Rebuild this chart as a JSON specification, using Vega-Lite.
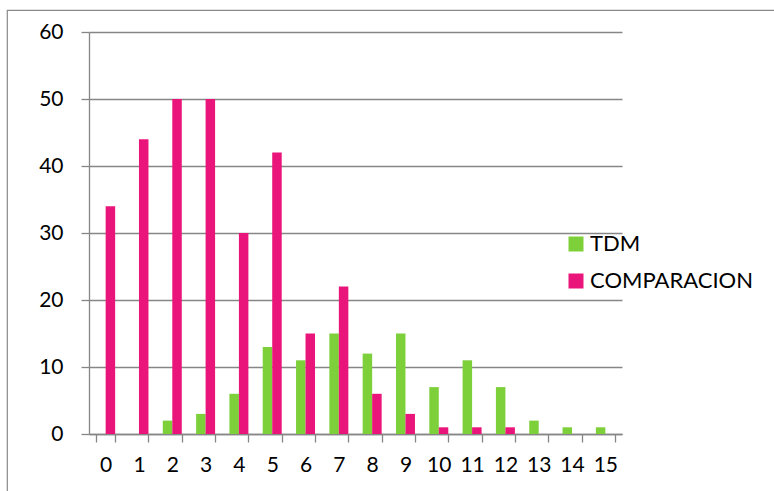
{
  "$schema": "https://vega.github.io/schema/vega-lite/v6.json",
  "autosize": {"type": "none"},
  "padding": {"left": 7, "top": 10, "right": -4, "bottom": -4},
  "width": 771,
  "height": 485,
  "config": {
    "font": "Lato",
    "view": {"stroke": "#8a8a8a", "strokeWidth": 1.2},
    "axis": {
      "labelFont": "Lato",
      "labelFontSize": 21,
      "labelColor": "#000000",
      "domainColor": "#868686",
      "domainWidth": 1.3,
      "tickColor": "#868686",
      "tickWidth": 1.3,
      "tickSize": 8,
      "gridColor": "#868686",
      "gridWidth": 1.3,
      "title": null
    }
  },
  "data": {
    "values": [
      {"n": 0, "serie": "TDM", "valor": 0},
      {"n": 1, "serie": "TDM", "valor": 0},
      {"n": 2, "serie": "TDM", "valor": 2},
      {"n": 3, "serie": "TDM", "valor": 3},
      {"n": 4, "serie": "TDM", "valor": 6},
      {"n": 5, "serie": "TDM", "valor": 13},
      {"n": 6, "serie": "TDM", "valor": 11},
      {"n": 7, "serie": "TDM", "valor": 15},
      {"n": 8, "serie": "TDM", "valor": 12},
      {"n": 9, "serie": "TDM", "valor": 15},
      {"n": 10, "serie": "TDM", "valor": 7},
      {"n": 11, "serie": "TDM", "valor": 11},
      {"n": 12, "serie": "TDM", "valor": 7},
      {"n": 13, "serie": "TDM", "valor": 2},
      {"n": 14, "serie": "TDM", "valor": 1},
      {"n": 15, "serie": "TDM", "valor": 1},
      {"n": 0, "serie": "COMPARACION", "valor": 34},
      {"n": 1, "serie": "COMPARACION", "valor": 44},
      {"n": 2, "serie": "COMPARACION", "valor": 50},
      {"n": 3, "serie": "COMPARACION", "valor": 50},
      {"n": 4, "serie": "COMPARACION", "valor": 30},
      {"n": 5, "serie": "COMPARACION", "valor": 42},
      {"n": 6, "serie": "COMPARACION", "valor": 15},
      {"n": 7, "serie": "COMPARACION", "valor": 22},
      {"n": 8, "serie": "COMPARACION", "valor": 6},
      {"n": 9, "serie": "COMPARACION", "valor": 3},
      {"n": 10, "serie": "COMPARACION", "valor": 1},
      {"n": 11, "serie": "COMPARACION", "valor": 1},
      {"n": 12, "serie": "COMPARACION", "valor": 1},
      {"n": 13, "serie": "COMPARACION", "valor": 0},
      {"n": 14, "serie": "COMPARACION", "valor": 0},
      {"n": 15, "serie": "COMPARACION", "valor": 0}
    ]
  },
  "mark": {"type": "bar"},
  "encoding": {
    "x": {
      "field": "n",
      "type": "ordinal",
      "scale": {"range": [82, 615], "paddingInner": 0.43, "paddingOuter": 0.215},
      "axis": {
        "orient": "bottom",
        "offset": -61,
        "labelAngle": 0,
        "tickBand": "extent",
        "grid": false,
        "labelPadding": 12
      }
    },
    "xOffset": {
      "field": "serie",
      "type": "nominal",
      "sort": ["TDM", "COMPARACION"],
      "scale": {"domain": ["TDM", "COMPARACION"]}
    },
    "y": {
      "field": "valor",
      "type": "quantitative",
      "scale": {"domain": [0, 60], "range": [424, 22], "nice": false},
      "axis": {
        "orient": "left",
        "offset": -82,
        "values": [0, 10, 20, 30, 40, 50, 60],
        "grid": true,
        "labelPadding": 18
      }
    },
    "color": {
      "field": "serie",
      "type": "nominal",
      "scale": {"domain": ["TDM", "COMPARACION"], "range": ["#7ed03b", "#ea157a"]},
      "legend": {
        "title": null,
        "orient": "none",
        "legendX": 558,
        "legendY": 223,
        "symbolType": "square",
        "symbolSize": 225,
        "symbolStrokeWidth": 0,
        "labelFont": "Lato",
        "labelFontSize": 22,
        "labelLimit": 400,
        "labelColor": "#000000",
        "labelOffset": 3,
        "rowPadding": 15
      }
    }
  }
}
